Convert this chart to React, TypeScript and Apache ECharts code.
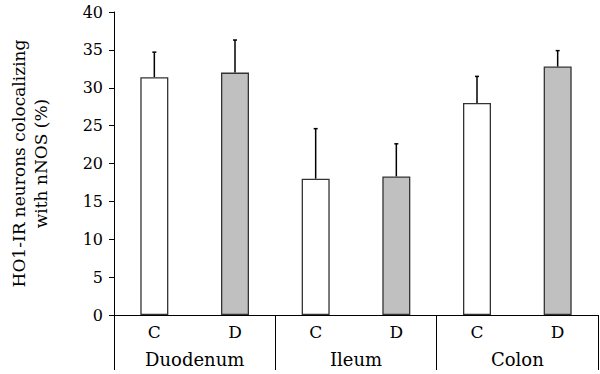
import React, { useEffect, useRef } from "react";
import * as echarts from "echarts";

const categories = ["C", "D", "C", "D", "C", "D"];
const groups = ["Duodenum", "Ileum", "Colon"];
const means = [31.4, 32.0, 18.0, 18.3, 28.0, 32.8];
const errors = [3.3, 4.3, 6.6, 4.3, 3.5, 2.1];
const yTitle = "HO1-IR neurons colocalizing\nwith nNOS (%)";
const yMin = 0;
const yMax = 40;
const yInterval = 5;

const FONT = "DejaVu Serif";

export default function App() {
  const ref = useRef<HTMLDivElement>(null);
  useEffect(() => {
    document.body.style.margin = "0";
    if (!ref.current) return;
    const chart = echarts.init(ref.current, undefined, { renderer: "svg" });
    chart.setOption({
      animation: false,
      backgroundColor: "#ffffff",
      textStyle: { fontFamily: FONT, color: "#000" },
      grid: { left: 88, right: 2, top: 12, bottom: 59, containLabel: false },
      xAxis: [
        {
          type: "category",
          data: categories,
          position: "bottom",
          offset: 0,
          axisLine: { show: true, lineStyle: { color: "#000", width: 1 } },
          axisTick: { show: false },
          axisLabel: { color: "#000", fontFamily: FONT, fontSize: 17, margin: 8, interval: 0 },
        },
        {
          type: "category",
          data: groups,
          position: "bottom",
          offset: 0,
          axisLine: { show: false },
          axisTick: { show: true, length: 55, interval: 0, lineStyle: { color: "#000", width: 1 } },
          axisLabel: { color: "#000", fontFamily: FONT, fontSize: 18, margin: 35, interval: 0 },
        },
      ],
      yAxis: {
        type: "value",
        min: yMin,
        max: yMax,
        interval: yInterval,
        name: yTitle,
        nameLocation: "middle",
        nameGap: 62,
        nameTextStyle: { color: "#000", fontFamily: FONT, fontSize: 17, lineHeight: 22 },
        axisLine: { show: true, lineStyle: { color: "#000", width: 1 } },
        axisTick: { show: true, length: 5, lineStyle: { color: "#000" } },
        axisLabel: { color: "#000", fontFamily: FONT, fontSize: 16, margin: 11 },
        splitLine: { show: false },
      },
      series: [
        {
          type: "bar",
          xAxisIndex: 0,
          barWidth: 28,
          data: means.map((v, i) => ({
            value: v,
            itemStyle: {
              color: categories[i] === "C" ? "#ffffff" : "#c0c0c0",
              borderColor: "#333",
              borderWidth: 1.3,
            },
          })),
        },
        {
          type: "custom",
          xAxisIndex: 0,
          z: 3,
          data: means.map((v, i) => [i, v, v + errors[i]]),
          renderItem: (params: any, api: any) => {
            const x = api.value(0);
            const low = api.coord([x, api.value(1)]);
            const high = api.coord([x, api.value(2)]);
            const cap = 2;
            const style = { stroke: "#000", lineWidth: 1.5 };
            return {
              type: "group",
              children: [
                { type: "line", shape: { x1: low[0], y1: low[1], x2: high[0], y2: high[1] }, style },
                { type: "line", shape: { x1: high[0] - cap, y1: high[1], x2: high[0] + cap, y2: high[1] }, style },
              ],
            };
          },
        },
      ],
    });
    return () => chart.dispose();
  }, []);
  return <div ref={ref} style={{ width: 600, height: 374 }} />;
}
